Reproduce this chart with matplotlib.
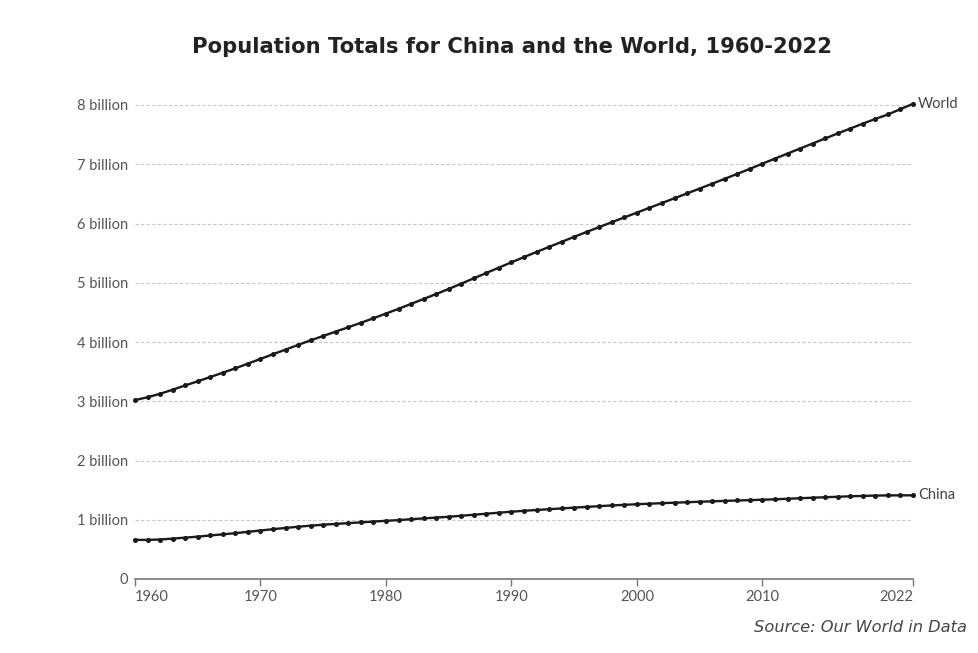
import matplotlib
matplotlib.use("Agg")
import matplotlib.pyplot as plt

years = list(range(1960, 2023))
world = [3.019, 3.068, 3.126, 3.195, 3.267, 3.337, 3.409, 3.482, 3.556, 3.635,
         3.714, 3.794, 3.872, 3.951, 4.028, 4.102, 4.176, 4.249, 4.324, 4.401,
         4.480, 4.560, 4.643, 4.726, 4.810, 4.895, 4.985, 5.075, 5.165, 5.255,
         5.345, 5.433, 5.520, 5.605, 5.690, 5.775, 5.858, 5.940, 6.022, 6.103,
         6.184, 6.265, 6.346, 6.427, 6.508, 6.590, 6.672, 6.755, 6.838, 6.922,
         7.010, 7.095, 7.180, 7.265, 7.350, 7.435, 7.520, 7.603, 7.685, 7.765,
         7.840, 7.930, 8.020]
china = [0.660, 0.660, 0.666, 0.682, 0.698, 0.715, 0.735, 0.754, 0.774, 0.796,
         0.818, 0.841, 0.862, 0.882, 0.900, 0.916, 0.930, 0.943, 0.956, 0.969,
         0.982, 0.994, 1.009, 1.023, 1.036, 1.051, 1.067, 1.084, 1.102, 1.119,
         1.136, 1.151, 1.165, 1.178, 1.191, 1.204, 1.217, 1.230, 1.241, 1.252,
         1.262, 1.271, 1.280, 1.288, 1.296, 1.304, 1.311, 1.318, 1.325, 1.331,
         1.338, 1.345, 1.354, 1.363, 1.372, 1.380, 1.388, 1.396, 1.402, 1.408,
         1.411, 1.412, 1.412]
xticks = [1960, 1970, 1980, 1990, 2000, 2010, 2022]
yticks = [0, 1, 2, 3, 4, 5, 6, 7, 8]
ylabels = ["0"] + [f"{v} billion" for v in yticks[1:]]

W, H = 979, 653
fig = plt.figure(figsize=(W / 100, H / 100), dpi=100)
ax = fig.add_axes([135 / W, 1 - 579 / H, (913 - 135) / W, (579 - 105) / H])

lab_font = ["Lato", "DejaVu Sans"]
for ys, name in [(world, "World"), (china, "China")]:
    ax.plot(years, ys, color="#1a1a1a", lw=1.7, marker="o", ms=2.6,
            clip_on=False, zorder=3)
    ax.text(years[-1] + 0.4, ys[-1], name, family=lab_font, fontsize=10.5,
            color="#444444", va="center", ha="left")

ax.set_xlim(1960, 2022)
ax.set_ylim(0, 8)
ax.set_yticks(yticks)
ax.set_yticklabels(ylabels, family=lab_font, fontsize=10.5, color="#555555")
ax.set_xticks(xticks)
ax.set_xticklabels([str(x) for x in xticks], family=lab_font, fontsize=10.5,
                   color="#555555")
tl = ax.get_xticklabels()
tl[0].set_ha("left")
tl[-1].set_ha("right")

for v in yticks[1:]:
    ax.axhline(v, color="#c8c8c8", lw=0.8, ls=(0, (3, 2)), zorder=1)

for s in ["top", "right", "left"]:
    ax.spines[s].set_visible(False)
ax.spines["bottom"].set_color("#777777")
ax.spines["bottom"].set_linewidth(1.2)
ax.tick_params(axis="y", length=0, pad=5)
ax.tick_params(axis="x", length=5, width=1, color="#777777", pad=3)

fig.text(512 / W, 1 - 47 / H, "Population Totals for China and the World, 1960-2022",
         ha="center", va="center", fontsize=15.2, fontweight="bold",
         color="#222222", family="DejaVu Sans")
fig.text(967 / W, 1 - 627 / H, "Source: Our World in Data", ha="right",
         va="center", fontsize=11.7, style="italic", color="#444444",
         family="DejaVu Sans")

fig.savefig("out.png", dpi=100, facecolor="white")
